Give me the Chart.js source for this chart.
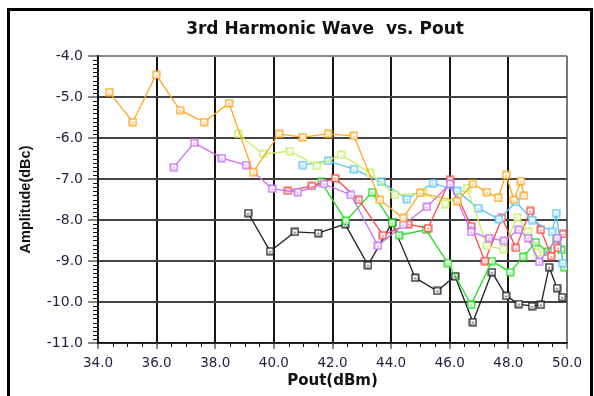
<!DOCTYPE html>
<html>
<head>
<meta charset="utf-8">
<script src="https://cdn.jsdelivr.net/npm/chart.js@4.4.1/dist/chart.umd.min.js"></script>
<style>
  html, body { margin: 0; padding: 0; background: #ffffff; overflow: hidden; }
  #wrap { position: relative; width: 594px; height: 396px; }
  #c { position: absolute; left: 0; top: 0; }
  #frame { position: absolute; left: 7px; top: 8px; width: 580px; height: 400px;
           border-left: 3px solid #000; border-top: 3px solid #000; border-right: 3px solid #000;
           pointer-events: none; }
</style>
</head>
<body>
<div id="wrap">
  <canvas id="c" width="594" height="396"></canvas>
  <div id="frame"></div>
</div>
<script>
const chartTitle = "3rd Harmonic Wave  vs. Pout";
const xTitle = "Pout(dBm)";
const yTitle = "Amplitude(dBc)";

const orangeX = [34.38,35.19,35.98,36.80,37.62,38.47,39.29,40.18,40.99,41.85,42.73,43.62,44.41,44.99,46.25,46.79,47.27,47.65,47.92,48.19,48.43,48.53];
const orangeY = [-4.88,-5.61,-4.46,-5.32,-5.61,-5.15,-6.83,-5.90,-5.98,-5.90,-5.95,-7.51,-7.95,-7.34,-7.54,-7.12,-7.32,-7.46,-6.90,-7.51,-7.05,-7.41];

const violetX = [36.59,37.28,38.23,39.05,39.94,40.82,41.71,42.63,43.55,44.41,45.22,46.01,46.73,47.34,47.85,48.36,48.67,49.05,49.66];
const violetY = [-6.71,-6.12,-6.49,-6.66,-7.24,-7.32,-7.12,-7.39,-8.63,-8.12,-7.68,-7.12,-8.29,-8.44,-8.51,-8.24,-8.44,-9.02,-8.44];

const limeX = [38.78,39.63,40.55,41.47,42.29,43.28,44.13,45.09,45.84,46.59,47.27,47.82,48.30,48.67,48.98];
const limeY = [-5.90,-6.39,-6.32,-6.68,-6.41,-6.85,-7.39,-7.34,-7.61,-7.22,-8.63,-8.71,-7.93,-8.29,-8.80];

const cyanX = [40.99,41.85,42.73,43.66,44.54,45.43,46.25,46.97,47.68,48.26,48.81,49.49,49.63,49.86];
const cyanY = [-6.66,-6.56,-6.76,-7.07,-7.49,-7.10,-7.29,-7.71,-7.98,-7.56,-8.00,-8.29,-7.83,-9.05];

const redX = [40.48,41.30,42.09,42.90,43.72,44.58,45.26,46.01,46.73,47.20,47.78,48.26,48.74,49.11,49.46,49.69,49.86];
const redY = [-7.29,-7.17,-6.98,-7.51,-8.37,-8.10,-8.20,-7.02,-8.15,-9.00,-7.95,-8.68,-7.78,-8.24,-8.88,-8.68,-8.34];

const greenX = [41.61,42.46,43.35,44.03,44.27,45.19,45.94,46.73,47.44,48.06,48.50,48.94,49.35,49.63,49.80,49.90];
const greenY = [-7.07,-8.02,-7.32,-8.07,-8.37,-8.24,-9.05,-10.07,-9.00,-9.27,-8.90,-8.54,-8.78,-8.44,-8.73,-9.15];

const blackX = [39.12,39.87,40.72,41.51,42.43,43.21,44.03,44.82,45.57,46.18,46.79,47.44,47.92,48.36,48.81,49.11,49.39,49.66,49.83];
const blackY = [-7.83,-8.76,-8.29,-8.32,-8.10,-9.10,-8.07,-9.41,-9.73,-9.37,-10.49,-9.27,-9.85,-10.05,-10.10,-10.07,-9.15,-9.66,-9.88];

const xMin = 34, xMax = 50, xStep = 2, xMinor = 0.5;
const yMin = -11, yMax = -4, yStep = 1, yMinor = 0.1;

function marker(color) {
  const c = document.createElement('canvas');
  c.width = 9; c.height = 9;
  const g = c.getContext('2d');
  g.fillStyle = '#ffffff';
  g.fillRect(1, 1, 7, 7);
  g.strokeStyle = color;
  g.lineWidth = 1.4;
  g.strokeRect(1.2, 1.2, 6.6, 6.6);
  g.fillStyle = color;
  g.fillRect(3.5, 4.5, 2, 1.2);
  return c;
}

function pts(xs, ys) { return xs.map((x, i) => ({ x: x, y: ys[i] })); }

function ds(label, xs, ys, color) {
  return {
    label: label,
    data: pts(xs, ys),
    showLine: true,
    borderColor: color,
    borderWidth: 1.3,
    pointStyle: marker(color),
    pointRadius: 4,
    pointHoverRadius: 4,
    tension: 0
  };
}

const titlePlugin = {
  id: 'titlePlugin',
  afterDraw(chart) {
    const ctx = chart.ctx;
    ctx.save();
    ctx.font = "bold 17px 'DejaVu Sans'";
    ctx.fillStyle = '#111111';
    ctx.textAlign = 'center';
    ctx.textBaseline = 'middle';
    ctx.fillText(chartTitle, 325, 30);
    ctx.restore();
  }
};

const minorTicks = {
  id: 'minorTicks',
  afterDraw(chart) {
    const ctx = chart.ctx;
    const xs = chart.scales.x, ys = chart.scales.y;
    ctx.save();
    ctx.strokeStyle = '#111111';
    ctx.lineWidth = 1;
    const nY = Math.round((yMax - yMin) / yMinor);
    for (let i = 1; i < nY; i++) {
      if (i % Math.round(yStep / yMinor) === 0) continue;
      const p = Math.round(ys.getPixelForValue(yMin + i * yMinor)) + 0.5;
      ctx.beginPath();
      ctx.moveTo(ys.right - 5, p);
      ctx.lineTo(ys.right, p);
      ctx.stroke();
    }
    const nX = Math.round((xMax - xMin) / xMinor);
    for (let i = 1; i < nX; i++) {
      if (i % Math.round(xStep / xMinor) === 0) continue;
      const p = Math.round(xs.getPixelForValue(xMin + i * xMinor)) + 0.5;
      ctx.beginPath();
      ctx.moveTo(p, xs.top);
      ctx.lineTo(p, xs.top + 4);
      ctx.stroke();
    }
    ctx.restore();
  }
};

new Chart(document.getElementById('c'), {
  type: 'scatter',
  data: {
    datasets: [
      ds('A', orangeX, orangeY, '#FFA820'),
      ds('B', violetX, violetY, '#C86EF5'),
      ds('C', limeX, limeY, '#C8F064'),
      ds('D', cyanX, cyanY, '#5CC4FA'),
      ds('E', redX, redY, '#FF4848'),
      ds('F', greenX, greenY, '#22DD22'),
      ds('G', blackX, blackY, '#222222')
    ]
  },
  options: {
    responsive: false,
    animation: false,
    devicePixelRatio: 1,
    layout: { padding: { left: 0, right: 27, top: 56, bottom: 0 } },
    plugins: {
      legend: { display: false },
      tooltip: { enabled: false },
      title: { display: false }
    },
    scales: {
      x: {
        type: 'linear',
        min: xMin, max: xMax,
        afterFit: (s) => { s.height = 53; },
        ticks: {
          stepSize: xStep,
          autoSkip: false,
          maxRotation: 0,
          padding: 6,
          color: '#1f1f3f',
          font: { family: "'DejaVu Sans'", size: 13.5 },
          callback: (v) => Number(v).toFixed(1)
        },
        grid: {
          color: (c) => (c.tick && c.tick.value === xMax) ? '#777777' : '#151515',
          lineWidth: 2,
          tickLength: 6,
          tickColor: '#111111',
          tickWidth: 1
        },
        border: { color: '#111111', width: 1.5 },
        title: {
          display: true,
          text: xTitle,
          color: '#111111',
          font: { family: "'DejaVu Sans'", size: 15, weight: 'bold' },
          padding: { top: 0, bottom: 6 }
        }
      },
      y: {
        type: 'linear',
        min: yMin, max: yMax,
        afterFit: (s) => { s.width = 98; },
        ticks: {
          stepSize: yStep,
          autoSkip: false,
          padding: 5,
          color: '#1f1f3f',
          font: { family: "'DejaVu Sans'", size: 14 },
          callback: (v) => Number(v).toFixed(1)
        },
        grid: {
          color: (c) => (c.tick && c.tick.value === yMax) ? '#888888' : '#444444',
          lineWidth: 2,
          tickLength: 10,
          tickColor: '#111111',
          tickWidth: 1
        },
        border: { color: '#111111', width: 1.5 },
        title: {
          display: true,
          text: yTitle,
          color: '#111111',
          font: { family: "'Liberation Sans', Arial, sans-serif", size: 14.5, weight: 'bold' },
          padding: { top: 17, bottom: 0 }
        }
      }
    }
  },
  plugins: [titlePlugin, minorTicks]
});
</script>
</body>
</html>
